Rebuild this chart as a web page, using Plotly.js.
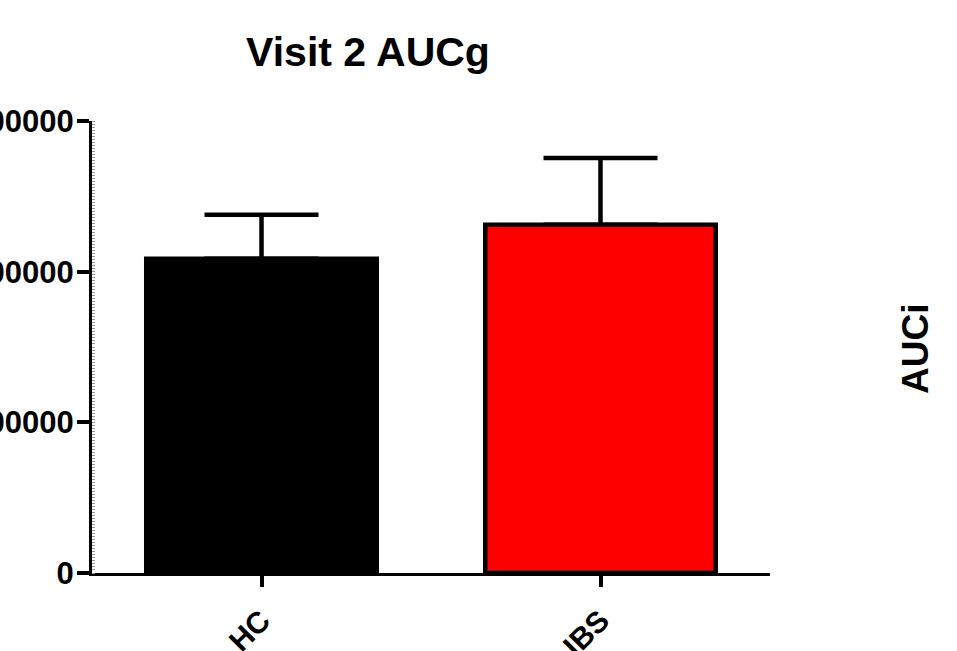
<!DOCTYPE html>
<html>
<head>
<meta charset="utf-8">
<script src="https://cdn.plot.ly/plotly-3.0.1.min.js"></script>
<style>html,body{margin:0;padding:0;background:#fff;}#chart{width:957px;height:651px;}</style>
</head>
<body>
<div id="chart"></div>
<script>
const categories = ['HC', 'IBS'];
const means = [2086000, 2311000];
const sems = [291000, 444000];
const barColors = ['#000000', '#ff0000'];
const yTickVals = [0, 1000000, 2000000, 3000000];
const yTickText = ['0', '1000000', '2000000', '3000000'];

const trace = {
  type: 'bar',
  x: categories,
  y: means,
  width: 0.68,
  marker: {color: barColors, line: {color: '#000', width: 4.5}},
  error_y: {type: 'data', symmetric: false, array: sems, arrayminus: [0, 0], color: '#000', thickness: 4.5, width: 57},
  hoverinfo: 'none'
};

const font = {family: 'Liberation Sans, Arial, sans-serif', color: '#000'};

const layout = {
  width: 957, height: 651,
  margin: {l: 92, r: 187, t: 121, b: 78, pad: 0},
  paper_bgcolor: '#fff', plot_bgcolor: '#fff',
  showlegend: false,
  title: {text: '<b>Visit 2 AUCg</b>', font: Object.assign({}, font, {size: 41}), x: 368 / 957, xanchor: 'center', y: 1 - 52 / 651, yanchor: 'middle'},
  xaxis: {
    range: [-0.5, 1.5], showgrid: false, zeroline: false,
    showline: true, linecolor: '#000', linewidth: 3,
    ticks: 'outside', ticklen: 11, tickwidth: 4, tickcolor: '#000',
    tickangle: -45, tickfont: Object.assign({}, font, {size: 30}),
    ticklabelstandoff: 4,
    tickprefix: '<b>', ticksuffix: '</b>'
  },
  yaxis: {
    range: [0, 3000000], showgrid: false, zeroline: false,
    showline: true, linecolor: '#000', linewidth: 3,
    ticks: 'outside', ticklen: 12, tickwidth: 4, tickcolor: '#000',
    tickvals: yTickVals, ticktext: yTickText.map(t => '<b>' + t + '</b>'),
    tickfont: Object.assign({}, font, {size: 31}),
    ticklabelstandoff: -3,
    minor: {ticks: 'inside', ticklen: 3, tickwidth: 1, tickcolor: '#999', dtick: 20000}
  },
  annotations: [{
    text: '<b>AUCi</b>', xref: 'paper', yref: 'paper', x: (915 - 92) / 678, y: (573 - 349) / 452,
    xanchor: 'center', yanchor: 'middle', showarrow: false, textangle: -90,
    font: Object.assign({}, font, {size: 37})
  }]
};

Plotly.newPlot('chart', [trace], layout, {displayModeBar: false, staticPlot: true});
</script>
</body>
</html>
